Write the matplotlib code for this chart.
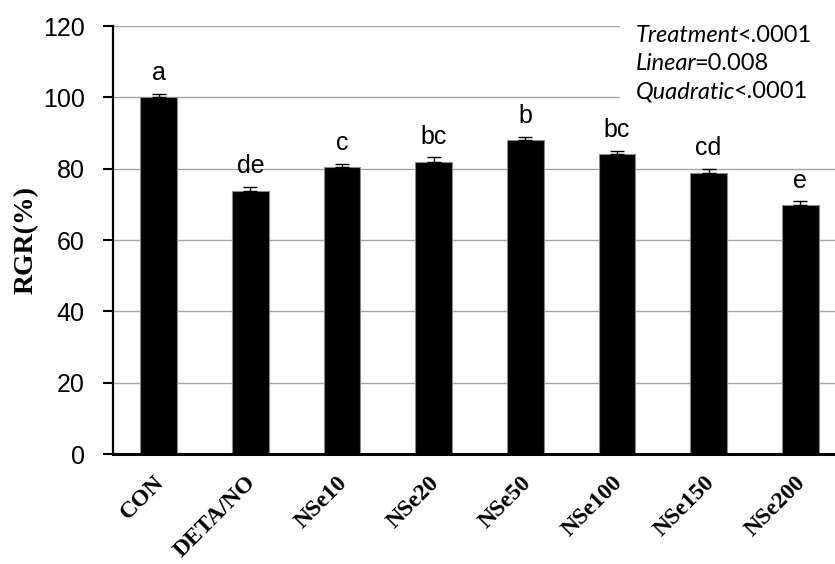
import matplotlib
matplotlib.use('Agg')
import matplotlib.pyplot as plt
from matplotlib.patches import Rectangle
from matplotlib.transforms import ScaledTranslation

# Data
groups = ['CON', 'DETA/NO', 'NSe10', 'NSe20', 'NSe50', 'NSe100', 'NSe150', 'NSe200']
rgr = [100.0, 73.8, 80.4, 82.0, 87.9, 84.0, 78.9, 69.8]
rgr_err = [1.0, 1.1, 1.0, 1.2, 1.1, 1.0, 1.0, 1.1]
letters = ['a', 'de', 'c', 'bc', 'b', 'bc', 'cd', 'e']
stats_lab = ['Treatment', 'Linear', 'Quadratic']
stats_val = ['<.0001', '=0.008', '<.0001']

fig = plt.figure(figsize=(8.35, 5.64), dpi=100)
ax = fig.add_axes([113/835, 1-454/564, 733/835, 428/564])

x = range(len(groups))
ax.bar(x, rgr, width=0.4, color='black', edgecolor='#8a8a8a', linewidth=0.8, zorder=2)
ax.errorbar(x, rgr, yerr=[[0]*len(rgr), rgr_err], fmt='none', ecolor='black',
            elinewidth=1, capsize=5, capthick=1, zorder=3)
for i, (v, e, l) in enumerate(zip(rgr, rgr_err, letters)):
    ax.text(i, v + e + 2.4, l, ha='center', va='bottom',
            fontsize=18, family='Liberation Sans')

ax.set_xlim(-0.5, len(groups) - 0.5)
ax.set_ylim(0, 120)
ax.set_yticks(range(0, 121, 20))
ax.yaxis.grid(True, color='#a6a6a6', linewidth=1)
ax.set_axisbelow(True)
for s in ['top', 'right']:
    ax.spines[s].set_visible(False)
ax.spines['left'].set_linewidth(1.6)
ax.spines['bottom'].set_linewidth(2.2)
ax.tick_params(axis='y', length=7.5, width=1.5, labelsize=18, pad=13)
ax.tick_params(axis='x', length=0, pad=13)
for lbl in ax.get_yticklabels():
    lbl.set_family('Liberation Sans')
ax.set_xticks(list(x))
ax.set_xticklabels(groups, rotation=45, ha='right', rotation_mode='anchor',
                   fontsize=17, fontweight='bold', family='Liberation Serif')
shift = ScaledTranslation(-5/100, 0, fig.dpi_scale_trans)
for lbl in ax.get_xticklabels():
    lbl.set_transform(lbl.get_transform() + shift)
ax.set_ylabel('RGR(%)', fontsize=20, fontweight='bold', family='Liberation Serif',
              labelpad=3)

# white box behind the statistics text
fig.add_artist(Rectangle((620/835, 1-106/564), 215/835, 100/564,
                         transform=fig.transFigure, facecolor='white',
                         edgecolor='none', zorder=5))
fig.canvas.draw()
r = fig.canvas.get_renderer()
y0 = 1 - 42/564
for k, (lab, val) in enumerate(zip(stats_lab, stats_val)):
    yy = y0 - k * 28/564
    t = fig.text(636/835, yy, lab, style='italic', fontsize=17, family='Lato',
                 va='baseline', ha='left', zorder=6)
    bb = t.get_window_extent(renderer=r)
    fig.text((bb.x1 - 2) / fig.bbox.width, yy, val, fontsize=17, family='Lato',
             va='baseline', ha='left', zorder=6)

fig.savefig('out.png', dpi=100)
